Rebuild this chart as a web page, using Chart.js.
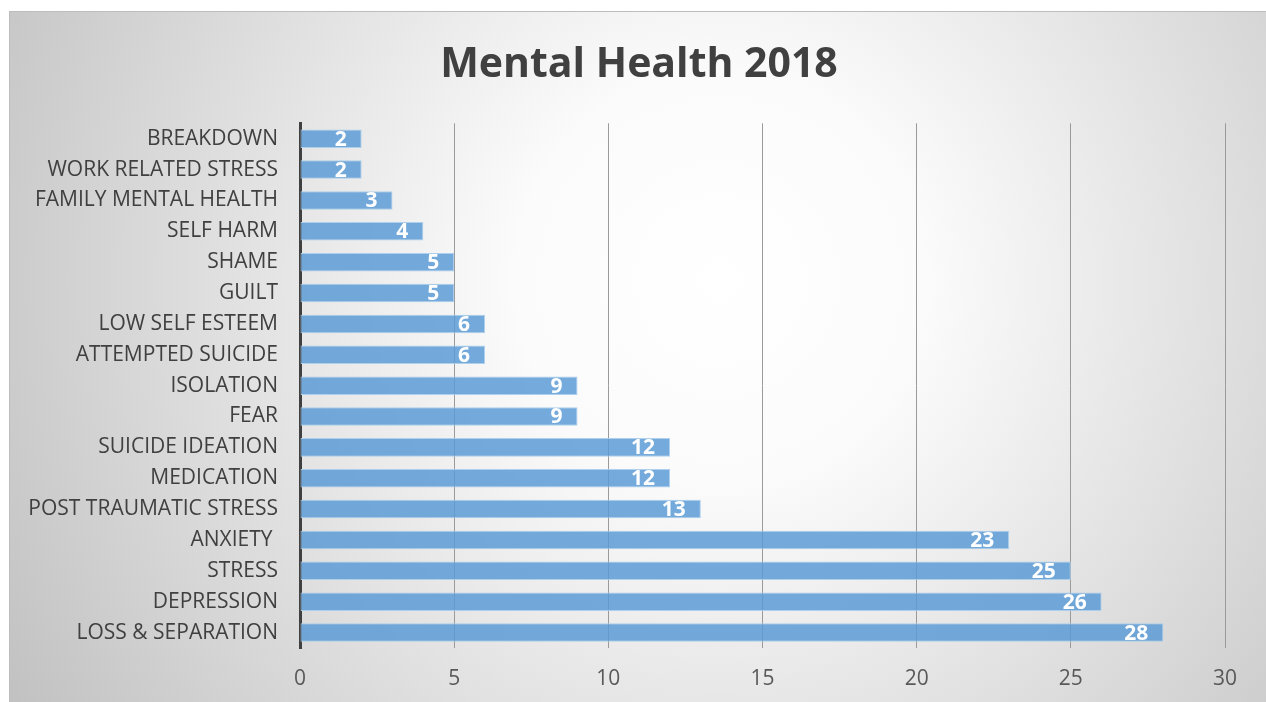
<!DOCTYPE html>
<html>
<head>
<meta charset="utf-8">
<script src="https://cdn.jsdelivr.net/npm/chart.js@4.4.1/dist/chart.umd.min.js"></script>
<style>
html,body{margin:0;padding:0;background:#fff;}
#wrap{position:relative;width:1266px;height:702px;}
</style>
</head>
<body>
<div id="wrap"><canvas id="c" width="1266" height="702"></canvas></div>
<script>
const titleText = 'Mental Health 2018';
const categories = ['BREAKDOWN','WORK RELATED STRESS','FAMILY MENTAL HEALTH','SELF HARM','SHAME','GUILT','LOW SELF ESTEEM','ATTEMPTED SUICIDE','ISOLATION','FEAR','SUICIDE IDEATION','MEDICATION','POST TRAUMATIC STRESS','ANXIETY ','STRESS','DEPRESSION','LOSS & SEPARATION'];
const values = [2,2,3,4,5,5,6,6,9,9,12,12,13,23,25,26,28];
const xTicks = [0,5,10,15,20,25,30];

const FONT = "'Open Sans', sans-serif";

const bgPlugin = {
  id: 'bg',
  beforeDraw(chart) {
    const ctx = chart.ctx;
    ctx.save();
    ctx.fillStyle = '#ffffff';
    ctx.fillRect(0, 0, chart.width, chart.height);
    const g = ctx.createRadialGradient(720, 280, 0, 720, 280, 820);
    g.addColorStop(0, '#ffffff');
    g.addColorStop(0.25, '#fbfbfb');
    g.addColorStop(1, '#c2c2c2');
    ctx.fillStyle = g;
    ctx.fillRect(9, 11, chart.width - 9, chart.height - 11);
    ctx.strokeStyle = '#bdbdbd';
    ctx.lineWidth = 1;
    ctx.beginPath();
    ctx.moveTo(9.5, chart.height);
    ctx.lineTo(9.5, 11.5);
    ctx.lineTo(chart.width, 11.5);
    ctx.stroke();
    // chart title
    ctx.fillStyle = '#404040';
    ctx.font = "bold 41px " + FONT;
    ctx.textAlign = 'center';
    ctx.textBaseline = 'alphabetic';
    ctx.fillText(titleText, 639, 77);
    ctx.restore();
  }
};

const labelPlugin = {
  id: 'barLabels',
  afterDatasetsDraw(chart) {
    const ctx = chart.ctx;
    const meta = chart.getDatasetMeta(0);
    ctx.save();
    ctx.fillStyle = '#ffffff';
    ctx.font = "bold 21px " + FONT;
    ctx.textAlign = 'right';
    ctx.textBaseline = 'middle';
    meta.data.forEach((bar, i) => {
      ctx.fillText(String(values[i]), bar.x - 15, bar.y + 1);
    });
    ctx.restore();
  }
};

new Chart(document.getElementById('c'), {
  type: 'bar',
  data: {
    labels: categories,
    datasets: [{
      data: values,
      backgroundColor: 'rgba(91,155,213,0.84)',
      borderColor: 'rgba(170,205,236,0.95)',
      borderWidth: 1,
      borderSkipped: false,
      barPercentage: 0.6,
      categoryPercentage: 1.0
    }]
  },
  options: {
    indexAxis: 'y',
    responsive: false,
    animation: false,
    devicePixelRatio: 1,
    layout: { padding: { left: 0, right: 41, top: 123.3, bottom: 0 } },
    plugins: {
      legend: { display: false },
      tooltip: { enabled: false },
      title: { display: false }
    },
    scales: {
      x: {
        min: 0, max: 30,
        afterBuildTicks(scale) { scale.ticks = xTicks.map(v => ({ value: v })); },
        afterFit(scale) { scale.height = 54; },
        grid: {
          drawTicks: false,
          color: (c) => (c.tick && c.tick.value === 0) ? 'rgba(0,0,0,0)' : '#9a9a9a',
          lineWidth: 1
        },
        border: { display: false },
        ticks: {
          color: '#595959',
          font: { family: FONT, size: 21 },
          padding: 18
        }
      },
      y: {
        afterFit(scale) { scale.width = 300; },
        grid: { display: false, drawTicks: false },
        border: { display: true, color: '#404040', width: 3 },
        ticks: {
          color: '#404040',
          font: { family: FONT, size: 21 },
          padding: 22
        }
      }
    }
  },
  plugins: [bgPlugin, labelPlugin]
});
</script>
</body>
</html>
